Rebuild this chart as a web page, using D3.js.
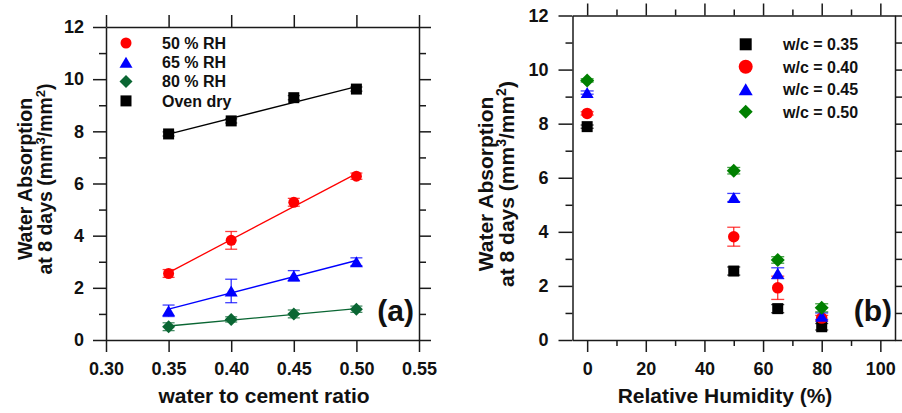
<!DOCTYPE html>
<html><head><meta charset="utf-8">
<script src="https://cdn.jsdelivr.net/npm/d3@7"></script>
<style>
body{margin:0;background:#fff}
svg{display:block}
text{font-family:"Liberation Sans",Arial,sans-serif;font-weight:bold;fill:#111}
</style>
</head><body>
<svg id="c" width="902" height="413"></svg>
<script>
// ---------- data ----------
const wcRatios = [0.35, 0.40, 0.45, 0.50];
const rhLevels = [0, 50, 65, 80];

// panel (a): absorption vs w/c for each humidity condition
const ovenDry    = [7.90, 8.40, 9.29, 9.62];
const ovenDryErr = [0.08, 0.08, 0.08, 0.08];
const rh50       = [2.55, 3.82, 5.28, 6.28];
const rh50Err    = [0.15, 0.34, 0.15, 0.12];
const rh65       = [1.12, 1.88, 2.46, 3.00];
const rh65Err    = [0.22, 0.45, 0.20, 0.15];
const rh80       = [0.51, 0.79, 1.00, 1.18];
const rh80Err    = [0.15, 0.10, 0.15, 0.12];

// panel (b): absorption vs RH for each w/c ratio
const wc35    = [7.89, 2.55, 1.16, 0.49];
const wc35Err = [0.06, 0.15, 0.15, 0.12];
const wc40    = [8.38, 3.82, 1.93, 0.81];
const wc40Err = [0.06, 0.35, 0.43, 0.10];
const wc45    = [9.15, 5.27, 2.47, 0.88];
const wc45Err = [0.06, 0.15, 0.20, 0.12];
const wc50    = [9.60, 6.26, 2.96, 1.19];
const wc50Err = [0.06, 0.12, 0.12, 0.15];

const xTicksA = [0.30, 0.35, 0.40, 0.45, 0.50, 0.55];
const yMajor  = [0, 2, 4, 6, 8, 10, 12];
const yMinor  = [1, 3, 5, 7, 9, 11];
const xTicksB = [0, 20, 40, 60, 80, 100];
const xMinorB = [10, 30, 50, 70, 90];

const legendA = ["50 % RH", "65 % RH", "80 % RH", "Oven dry"];
const legendB = ["w/c = 0.35", "w/c = 0.40", "w/c = 0.45", "w/c = 0.50"];

// ---------- helpers ----------
const svg = d3.select("#c");
const AX = "#1a1a1a";

function symPath(type, s) {
  const h = s / 2;
  if (type === "square") return `M${-h},${-h}H${h}V${h}H${-h}Z`;
  if (type === "circle") return d3.arc()({innerRadius:0, outerRadius:h, startAngle:0, endAngle:2*Math.PI});
  if (type === "triangle") { const hh = s*0.85/2; return `M0,${-hh}L${h},${hh}L${-h},${hh}Z`; }
  if (type === "diamond") return `M0,${-h}L${h},0L0,${h}L${-h},0Z`;
}

function frame(g, x, y, o) {
  const styleAxis = sel => {
    sel.selectAll(".domain").attr("stroke", AX).attr("stroke-width", 1.5);
    sel.selectAll(".tick line").attr("stroke", AX).attr("stroke-width", 1.5);
    sel.selectAll(".tick text").style("font-size", o.tickFont + "px").attr("fill", "#111");
  };
  const [y0, y1] = y.range();
  const [x0, x1] = x.range();
  g.append("g").attr("transform", `translate(0,${y0})`)
    .call(d3.axisBottom(x).tickValues(o.xMajor).tickSize(12).tickSizeOuter(0).tickPadding(10).tickFormat(o.xFmt)).call(styleAxis);
  g.append("g").attr("transform", `translate(0,${y1})`)
    .call(d3.axisTop(x).tickValues(o.xMajor).tickSize(12).tickSizeOuter(0).tickFormat("")).call(styleAxis);
  if (o.xMinor) {
    g.append("g").attr("transform", `translate(0,${y0})`)
      .call(d3.axisBottom(x).tickValues(o.xMinor).tickSize(6).tickSizeOuter(0).tickFormat("")).call(styleAxis)
      .select(".domain").remove();
    g.append("g").attr("transform", `translate(0,${y1})`)
      .call(d3.axisTop(x).tickValues(o.xMinor).tickSize(6).tickSizeOuter(0).tickFormat("")).call(styleAxis)
      .select(".domain").remove();
  }
  g.append("g").attr("transform", `translate(${x0},0)`)
    .call(d3.axisLeft(y).tickValues(yMajor).tickSize(o.yTick).tickSizeOuter(0).tickPadding(o.yPad).tickFormat(d3.format("d"))).call(styleAxis);
  g.append("g").attr("transform", `translate(${x0},0)`)
    .call(d3.axisLeft(y).tickValues(yMinor).tickSize(7).tickSizeOuter(0).tickFormat("")).call(styleAxis)
    .select(".domain").remove();
  g.append("g").attr("transform", `translate(${x1},0)`)
    .call(d3.axisRight(y).tickValues(yMajor).tickSize(12).tickSizeOuter(0).tickFormat("")).call(styleAxis);
  g.append("g").attr("transform", `translate(${x1},0)`)
    .call(d3.axisRight(y).tickValues(yMinor).tickSize(7).tickSizeOuter(0).tickFormat("")).call(styleAxis)
    .select(".domain").remove();
}

function yTitle(g, cx, cy, fs, gap) {
  const t = g.append("g").attr("transform", `translate(${cx},${cy}) rotate(-90)`);
  t.append("text").attr("text-anchor", "middle").attr("y", 0).style("font-size", fs + "px").text("Water Absorption");
  const t2 = t.append("text").attr("text-anchor", "middle").attr("y", gap).style("font-size", fs + "px");
  const sup = Math.round(fs * 0.65);
  t2.append("tspan").text("at 8 days (mm");
  t2.append("tspan").attr("dy", -fs*0.38).style("font-size", sup + "px").text("3");
  t2.append("tspan").attr("dy", fs*0.38).text("/mm");
  t2.append("tspan").attr("dy", -fs*0.38).style("font-size", sup + "px").text("2");
  t2.append("tspan").attr("dy", fs*0.38).text(")");
}

function series(g, x, y, xs, ys, es, color, sym, size, capW) {
  const s = g.append("g");
  xs.forEach((xv, i) => {
    const px = x(xv), top = y(ys[i] + es[i]), bot = y(ys[i] - es[i]);
    s.append("line").attr("x1", px).attr("x2", px).attr("y1", top).attr("y2", bot)
      .attr("stroke", color).attr("stroke-width", 1.3).attr("opacity", 0.8);
    [top, bot].forEach(yy => s.append("line").attr("x1", px - capW/2).attr("x2", px + capW/2)
      .attr("y1", yy).attr("y2", yy).attr("stroke", color).attr("stroke-width", 1.3).attr("opacity", 0.75));
  });
  s.selectAll("path.m").data(xs).join("path").attr("class", "m")
    .attr("d", symPath(sym, size))
    .attr("transform", (d, i) => `translate(${x(d)},${y(ys[i])})`)
    .attr("fill", color);
}

function fitLine(g, x, y, xs, ys, color) {
  const n = xs.length, mx = d3.mean(xs), my = d3.mean(ys);
  const b = d3.sum(xs, (v, i) => (v - mx) * (ys[i] - my)) / d3.sum(xs, v => (v - mx) ** 2);
  const a = my - b * mx;
  const ends = [xs[0], xs[n - 1]];
  g.append("path").datum(ends)
    .attr("d", d3.line().x(d => x(d)).y(d => y(a + b * d)))
    .attr("stroke", color).attr("stroke-width", 1.3).attr("fill", "none");
}

// ---------- panel (a) ----------
const gA = svg.append("g");
const xA = d3.scaleLinear().domain([0.30, 0.55]).range([106, 419]);
const yA = d3.scaleLinear().domain([0, 12]).range([340, 27]);
frame(gA, xA, yA, {xMajor: xTicksA, xFmt: d3.format(".2f"), tickFont: 18, yTick: 13, yPad: 9});

const greenA = "#0a6633";
const seriesA = [
  {v: rh50, e: rh50Err, c: "#ff0000", s: "circle", size: 11},
  {v: rh65, e: rh65Err, c: "#0000ff", s: "triangle", size: 13},
  {v: rh80, e: rh80Err, c: greenA, s: "diamond", size: 13},
  {v: ovenDry, e: ovenDryErr, c: "#000000", s: "square", size: 11}
];
seriesA.forEach(d => fitLine(gA, xA, yA, wcRatios, d.v, d.c));
seriesA.forEach(d => series(gA, xA, yA, wcRatios, d.v, d.e, d.c, d.s, d.size, 12));

seriesA.forEach((d, i) => {
  const yy = 43 + i * 19.3;
  gA.append("path").attr("d", symPath(d.s, d.size)).attr("transform", `translate(126,${yy})`).attr("fill", d.c);
  gA.append("text").attr("x", 162).attr("y", yy + 5.7).style("font-size", "16px").text(legendA[i]);
});

gA.append("text").attr("x", 264).attr("y", 403).attr("text-anchor", "middle").style("font-size", "21px").text("water to cement ratio");
yTitle(gA, 32, 179, 19.5, 20);
gA.append("text").attr("x", 414).attr("y", 321).attr("text-anchor", "end").style("font-size", "30px").text("(a)");

// ---------- panel (b) ----------
const gB = svg.append("g");
const xB = d3.scaleLinear().domain([-5, 105]).range([572.5, 895]);
const yB = d3.scaleLinear().domain([0, 12]).range([340, 15.5]);
frame(gB, xB, yB, {xMajor: xTicksB, xMinor: xMinorB, xFmt: d3.format("d"), tickFont: 18, yTick: 14, yPad: 10});

const seriesB = [
  {v: wc35, e: wc35Err, c: "#000000", s: "square", size: 11, ls: 12},
  {v: wc40, e: wc40Err, c: "#ff0000", s: "circle", size: 11.5, ls: 14},
  {v: wc45, e: wc45Err, c: "#0000ff", s: "triangle", size: 13, ls: 14},
  {v: wc50, e: wc50Err, c: "#008000", s: "diamond", size: 14, ls: 14}
];
seriesB.forEach(d => series(gB, xB, yB, rhLevels, d.v, d.e, d.c, d.s, d.size, 13));

seriesB.forEach((d, i) => {
  const yy = 44.3 + i * 22.5;
  gB.append("path").attr("d", symPath(d.s, d.ls)).attr("transform", `translate(745.7,${yy})`).attr("fill", d.c);
  gB.append("text").attr("x", 783).attr("y", yy + 6).style("font-size", "16px").text(legendB[i]);
});

gB.append("text").attr("x", 725).attr("y", 403).attr("text-anchor", "middle").style("font-size", "21px").text("Relative Humidity (%)");
yTitle(gB, 493, 184, 21, 21);
gB.append("text").attr("x", 892).attr("y", 321).attr("text-anchor", "end").style("font-size", "30px").text("(b)");
</script>
</body></html>
